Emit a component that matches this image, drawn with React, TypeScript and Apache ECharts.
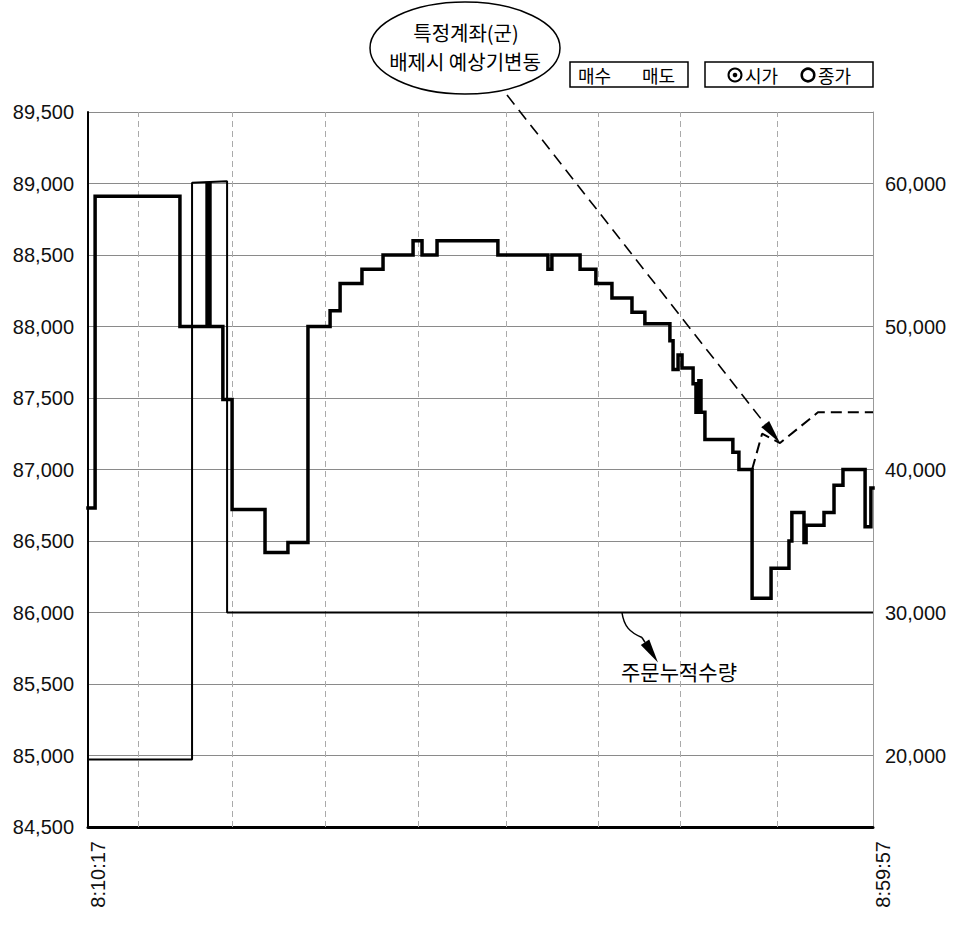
import React, { useEffect, useRef } from "react";
import * as echarts from "echarts";

// ---- data ----
const startTime = "8:10:17";
const endTime = "8:59:57";
const gridTimes = ["8:13:27", "8:19:24", "8:25:17", "8:31:10", "8:36:44", "8:42:33", "8:47:44", "8:53:53"];

const priceTimes = [
  "8:10:17", "8:10:44", "8:16:06", "8:17:49", "8:18:00", "8:18:49", "8:19:24", "8:21:29", "8:22:56",
  "8:24:12", "8:25:36", "8:26:14", "8:27:37", "8:28:57", "8:30:51", "8:31:25", "8:32:22", "8:36:13",
  "8:39:23", "8:39:38", "8:41:25", "8:42:25", "8:43:26", "8:44:42", "8:45:31", "8:47:06", "8:47:18",
  "8:47:37", "8:47:52", "8:48:34", "8:48:45", "8:48:56", "8:49:04", "8:49:19", "8:51:05", "8:51:28",
  "8:52:18", "8:53:30", "8:54:38", "8:54:49", "8:55:35", "8:55:43", "8:56:51", "8:57:29", "8:58:03",
  "8:59:27", "8:59:49", "8:59:57",
];
const priceValues = [
  86730, 88910, 88000, 89000, 88000, 87490, 86720, 86420, 86490,
  88000, 88110, 88300, 88400, 88500, 88600, 88500, 88600, 88500,
  88400, 88500, 88400, 88300, 88200, 88100, 88020, 87900, 87700,
  87800, 87710, 87600, 87400, 87620, 87400, 87210, 87120, 87000,
  86100, 86310, 86500, 86700, 86490, 86610, 86700, 86890, 87000,
  86600, 86870, 86870,
];

const qtyTimes = ["8:10:17", "8:16:52", "8:16:52", "8:19:05", "8:19:05", "8:59:57"];
const qtyValues = [19720, 19720, 60050, 60150, 30000, 30000];

const expTimes = ["8:52:18", "8:52:56", "8:54:04", "8:56:28", "8:59:57"];
const expValues = [87000, 87250, 87185, 87400, 87400];

const priceMin = 84500;
const priceMax = 89500;
const priceStep = 500;
const qtyMin = 15000;
const qtyMax = 65000;
const qtyStep = 5000;
const qtyLabels = [20000, 30000, 40000, 50000, 60000];

const calloutLines = ["특정계좌(군)", "배제시 예상기변동"];
const calloutTarget = 2; // index into exp series
const qtyLabel = "주문누적수량";
const qtyPointerTime = "8:44:04";
const legendTrade = ["매수", "매도"];
const legendPrice = ["시가", "종가"];

// ---- helpers ----
const toAbs = (s: string) => {
  const [h, m, x] = s.split(":").map(Number);
  return h * 3600 + m * 60 + x;
};
const base = toAbs(startTime);
const toSec = (s: string) => toAbs(s) - base;
const fmtTime = (v: number) => {
  const t = Math.round(v) + base;
  const h = Math.floor(t / 3600);
  const m = Math.floor((t % 3600) / 60);
  const s = t % 60;
  return `${h}:${String(m).padStart(2, "0")}:${String(s).padStart(2, "0")}`;
};
const fmtNum = (v: number) => v.toLocaleString("en-US");

const NUM_FONT = "'Liberation Sans', Arial, sans-serif";
const KR_FONT = "'Noto Sans CJK KR', sans-serif";

function arrowHead(tip: number[], from: number[], len: number, hw: number) {
  const dx = tip[0] - from[0];
  const dy = tip[1] - from[1];
  const d = Math.hypot(dx, dy) || 1;
  const ux = dx / d, uy = dy / d;
  const bx = tip[0] - ux * len, by = tip[1] - uy * len;
  return {
    base: [bx, by],
    points: [
      [tip[0], tip[1]],
      [bx - uy * hw, by + ux * hw],
      [bx + uy * hw, by - ux * hw],
    ],
  };
}

export default function App() {
  const ref = useRef<HTMLDivElement>(null);
  useEffect(() => {
    if (!ref.current) return;
    const chart = echarts.init(ref.current, undefined, { renderer: "svg" });
    const xMax = toSec(endTime);
    const option: any = {
      animation: false,
      backgroundColor: "#fff",
      grid: { left: 88, right: 82, top: 112, bottom: 101, containLabel: false },
      xAxis: {
        type: "value",
        min: 0,
        max: xMax,
        interval: xMax,
        axisLine: { show: true, lineStyle: { color: "#000", width: 3 } },
        axisTick: {
          show: true,
          inside: true,
          length: 5,
          customValues: gridTimes.map(toSec),
          lineStyle: { color: "#999", width: 1 },
        },
        axisLabel: {
          rotate: 90,
          margin: 14,
          fontSize: 20,
          fontFamily: NUM_FONT,
          color: "#111",
          verticalAlign: "top",
          formatter: (v: number) => fmtTime(v),
        },
        splitLine: { show: false },
      },
      yAxis: [
        {
          type: "value",
          min: priceMin,
          max: priceMax,
          interval: priceStep,
          axisLine: { show: true, lineStyle: { color: "#000", width: 2 } },
          axisTick: { show: false },
          axisLabel: { fontSize: 20, fontFamily: NUM_FONT, color: "#111", margin: 14, formatter: (v: number) => fmtNum(v) },
          splitLine: { show: true, lineStyle: { color: "#8a8a8a", width: 1 } },
        },
        {
          type: "value",
          position: "right",
          min: qtyMin,
          max: qtyMax,
          interval: qtyStep,
          axisLine: { show: true, lineStyle: { color: "#999", width: 1 } },
          axisTick: { show: false },
          axisLabel: {
            fontSize: 20,
            fontFamily: NUM_FONT,
            color: "#111",
            margin: 12,
            formatter: (v: number) => (qtyLabels.includes(v) ? fmtNum(v) : ""),
          },
          splitLine: { show: false },
        },
      ],
      series: [
        {
          type: "line",
          data: [],
          silent: true,
          markLine: {
            silent: true,
            z: 1,
            symbol: ["none", "none"],
            label: { show: false },
            lineStyle: { color: "#aaa", type: [6, 4], width: 1 },
            data: gridTimes.map((t) => ({ xAxis: toSec(t) })),
          },
        },
        {
          name: "주문누적수량",
          type: "line",
          yAxisIndex: 1,
          showSymbol: false,
          symbol: "none",
          data: qtyTimes.map((t, i) => [toSec(t), qtyValues[i]]),
          lineStyle: { color: "#000", width: 2 },
          z: 3,
        },
        {
          name: "가격",
          type: "line",
          step: "end",
          showSymbol: false,
          symbol: "none",
          data: priceTimes.map((t, i) => [toSec(t), priceValues[i]]),
          lineStyle: { color: "#000", width: 3.5, join: "miter", cap: "square" },
          z: 4,
        },
        {
          name: "예상기변동",
          type: "line",
          showSymbol: false,
          symbol: "none",
          data: expTimes.map((t, i) => [toSec(t), expValues[i]]),
          lineStyle: { color: "#000", width: 2, type: [11, 6] },
          z: 4,
        },
      ],
    };
    chart.setOption(option);

    // ---- annotations ----
    const tip = chart.convertToPixel({ xAxisIndex: 0, yAxisIndex: 0 }, [
      toSec(expTimes[calloutTarget]),
      expValues[calloutTarget],
    ]) as number[];
    const ell = { cx: 465, cy: 48, rx: 95, ry: 46 };
    const start = [507, 95];
    const ah = arrowHead(tip, start, 24, 5);

    const qs = chart.convertToPixel({ xAxisIndex: 0, yAxisIndex: 1 }, [toSec(qtyPointerTime), 30000]) as number[];
    const qBendEnd = [qs[0] + 20, qs[1] + 25];
    const qTip = [qs[0] + 36, qs[1] + 50];
    const qah = arrowHead(qTip, qBendEnd, 24, 5);

    const textStyle = (text: string, size: number, align: string) => ({
      text,
      fontSize: size,
      fontFamily: KR_FONT,
      fill: "#000",
      align,
      verticalAlign: "middle",
    });

    const graphic: any[] = [
      {
        type: "line",
        shape: { x1: start[0], y1: start[1], x2: ah.base[0], y2: ah.base[1] },
        style: { stroke: "#000", lineWidth: 1.6, lineDash: [12, 7] },
        z: 10,
      },
      { type: "polygon", shape: { points: ah.points }, style: { fill: "#000" }, z: 10 },
      {
        type: "ellipse",
        shape: ell,
        style: { fill: "#fff", stroke: "#000", lineWidth: 1.5 },
        z: 11,
      },
      { type: "text", x: ell.cx + 1, y: 32, style: textStyle(calloutLines[0], 20, "center"), z: 12 },
      { type: "text", x: ell.cx, y: 61, style: textStyle(calloutLines[1], 20, "center"), z: 12 },
      // quantity pointer
      {
        type: "bezierCurve",
        shape: {
          x1: qs[0], y1: qs[1],
          cpx1: qs[0] + 2, cpy1: qs[1] + 14,
          cpx2: qs[0] + 8, cpy2: qs[1] + 20,
          x2: qBendEnd[0], y2: qBendEnd[1],
        },
        style: { stroke: "#000", lineWidth: 1.5, fill: null },
        z: 10,
      },
      {
        type: "line",
        shape: { x1: qBendEnd[0], y1: qBendEnd[1], x2: qah.base[0], y2: qah.base[1] },
        style: { stroke: "#000", lineWidth: 1.5 },
        z: 10,
      },
      { type: "polygon", shape: { points: qah.points }, style: { fill: "#000" }, z: 10 },
      { type: "text", x: 679, y: 671, style: textStyle(qtyLabel, 21, "center"), z: 12 },
      // legend box 1
      {
        type: "rect",
        shape: { x: 570, y: 62, width: 118, height: 25 },
        style: { fill: "#fff", stroke: "#000", lineWidth: 1.5 },
        z: 10,
      },
      { type: "text", x: 578, y: 75, style: textStyle(legendTrade[0], 18, "left"), z: 11 },
      { type: "text", x: 642, y: 75, style: textStyle(legendTrade[1], 18, "left"), z: 11 },
      // legend box 2
      {
        type: "rect",
        shape: { x: 705, y: 62, width: 168, height: 25 },
        style: { fill: "#fff", stroke: "#000", lineWidth: 1.5 },
        z: 10,
      },
      { type: "circle", shape: { cx: 735, cy: 75, r: 6.5 }, style: { fill: "#fff", stroke: "#000", lineWidth: 2 }, z: 11 },
      { type: "circle", shape: { cx: 735, cy: 75, r: 2.3 }, style: { fill: "#000" }, z: 12 },
      { type: "text", x: 745, y: 75, style: textStyle(legendPrice[0], 18, "left"), z: 11 },
      { type: "circle", shape: { cx: 808, cy: 75, r: 6.3 }, style: { fill: "#fff", stroke: "#000", lineWidth: 2.5 }, z: 11 },
      { type: "text", x: 818, y: 75, style: textStyle(legendPrice[1], 18, "left"), z: 11 },
    ];
    chart.setOption({ graphic });

    return () => chart.dispose();
  }, []);
  return (
    <div
      ref={ref}
      style={{ position: "fixed", left: 0, top: 0, width: 955, height: 928, background: "#fff" }}
    />
  );
}
